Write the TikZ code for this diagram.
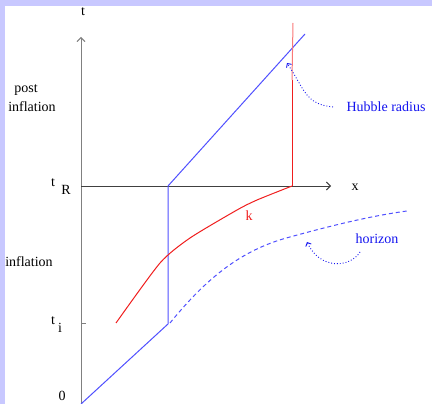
\documentclass[tikz,border=0pt]{standalone}
\usepackage{fontspec}
\setmainfont{Liberation Serif}
\usetikzlibrary{arrows.meta}
\definecolor{frame}{RGB}{200,200,255}
\definecolor{lineblue}{RGB}{80,80,255}
\definecolor{txtblue}{RGB}{20,20,240}
\definecolor{kred}{RGB}{240,30,30}
\definecolor{kpink}{RGB}{250,120,120}
\tikzset{
  lbl/.style={font=\fontsize{14}{16}\selectfont, inner sep=0pt},
  axis/.style={line width=0.9pt, -{Straight Barb[length=4pt,width=8pt]}},
  blueline/.style={lineblue, line width=1pt},
  redline/.style={kred, line width=1pt},
  note/.style={txtblue, line width=0.9pt, dotted, -{Straight Barb[length=3pt,width=6pt]}},
}
\begin{document}
\begin{tikzpicture}[x=1pt,y=-1pt]
\useasboundingbox (0,0) rectangle (432,404);
\fill[frame] (0,0) rectangle (432,404);
\fill[white] (5,6) rectangle (432,404);
% axes
\coordinate (O) at (81,404);
\coordinate (ttop) at (81,37);
\coordinate (tR) at (81,186);
\coordinate (xend) at (331,186);
\draw[axis, gray] (O) -- (ttop);
\draw[axis, black!75] (tR) -- (xend);
\draw[gray, line width=0.9pt] (81,323) -- (86,323);
% labels
\node[lbl] (tl) at (83,12) {t};
\node[lbl] (xl) at (355,187) {x};
\node[lbl] (tRt) at (53,183) {t};
\node[lbl] (tRR) at (66,190) {R};
\node[lbl] (tit) at (53,321) {t};
\node[lbl] (tii) at (60,328) {i};
\node[lbl] (zero) at (62,396) {0};
\node[lbl] (post) at (26,90) {post};
\node[lbl] (infl1) at (32,107) {inflation};
\node[lbl] (infl2) at (29,262) {inflation};
\node[lbl, txtblue] (hub) at (386,107) {Hubble radius};
\node[lbl, txtblue] (hor) at (377,239) {horizon};
\node[lbl, kred] (k) at (249,216) {k};
% Hubble radius line
\coordinate (h1) at (168,324);
\coordinate (h2) at (168,186);
\coordinate (h3) at (305,34);
\draw[blueline] (O) -- (h1) -- (h2) -- (h3);
% k mode
\coordinate (k4) at (292,186);
\coordinate (k5) at (292,80);
\coordinate (k6) at (293,23);
\draw[redline] plot[smooth, tension=0.4] coordinates {(116,323) (160,263) (190,238) (237,210) (257,200) (292,186)};
\draw[redline] (k4) -- (k5);
\draw[kpink, line width=1pt] (k5) -- (k6);
% horizon
\draw[blueline, dashed, dash pattern=on 4pt off 3pt] (170,323) .. controls (205,280) and (240,250) .. (290,237)
  .. controls (330,226) and (370,216) .. (407,211);
% annotation arrows
\draw[note] (333,107) .. controls (305,104) and (305,90) .. (287,63);
\draw[note] (360,252) .. controls (350,268) and (320,270) .. (307,242);
\end{tikzpicture}
\end{document}
